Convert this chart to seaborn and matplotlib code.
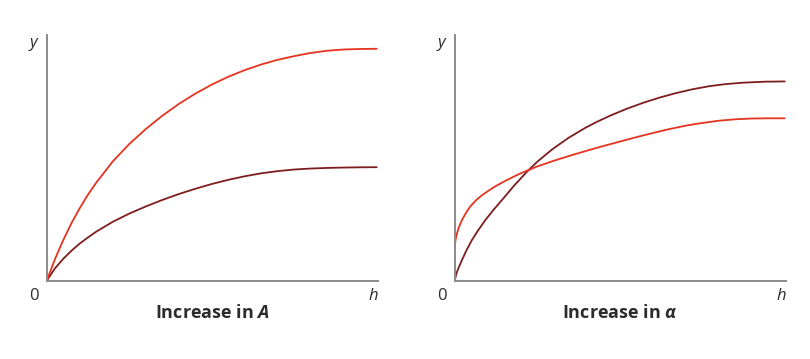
import numpy as np
import pandas as pd
import matplotlib
matplotlib.use("Agg")
import matplotlib.pyplot as plt
import seaborn as sns

# ---- data (h and y in arbitrary units 0..10) ----
left_red_h = [0, 0.25, 0.5, 0.75, 1.0, 1.25, 1.5, 2.0, 2.5, 3.0, 3.5, 4.0, 4.5, 5.0,
              5.5, 6.0, 6.5, 7.0, 7.5, 8.0, 8.5, 9.0, 9.5, 10.0]
left_red_y = [0, 0.875, 1.65, 2.34, 2.95, 3.50, 3.99, 4.85, 5.56, 6.17, 6.71, 7.19, 7.61, 7.98,
              8.30, 8.57, 8.80, 8.99, 9.14, 9.27, 9.36, 9.41, 9.43, 9.44]

left_dark_h = [0, 0.25, 0.5, 0.75, 1.0, 1.25, 1.5, 2.0, 2.5, 3.0, 3.5, 4.0, 4.5, 5.0,
               5.5, 6.0, 6.5, 7.0, 7.5, 8.0, 8.5, 9.0, 9.5, 10.0]
left_dark_y = [0, 0.50, 0.89, 1.22, 1.51, 1.76, 1.995, 2.395, 2.73, 3.02, 3.285, 3.525, 3.74, 3.935,
               4.105, 4.25, 4.37, 4.46, 4.525, 4.565, 4.59, 4.605, 4.615, 4.62]

right_red_h = [0, 0.03, 0.07, 0.12, 0.22, 0.35, 0.47, 0.65, 0.83, 1.0, 1.23, 1.5, 1.75, 2.0,
               2.5, 3.0, 3.5, 4.0, 4.5, 5.0, 5.5, 6.0, 6.5, 7.0, 7.5, 8.0, 8.5, 9.0, 9.5, 10.0]
right_red_y = [1.38, 1.70, 1.93, 2.15, 2.47, 2.78, 3.02, 3.28, 3.48, 3.64, 3.84, 4.04, 4.21, 4.37,
               4.65, 4.88, 5.09, 5.29, 5.48, 5.66, 5.84, 6.01, 6.17, 6.31, 6.42, 6.51, 6.57, 6.60, 6.61, 6.61]

right_dark_h = [0, 0.05, 0.1, 0.22, 0.35, 0.52, 0.7, 0.93, 1.18, 1.43, 1.8, 2.19, 2.5, 2.95,
                3.45, 3.95, 4.3, 4.7, 5.2, 5.71, 6.2, 6.72, 7.2, 7.73, 8.2, 8.74, 9.4, 10.0]
right_dark_y = [0, 0.28, 0.47, 0.84, 1.22, 1.65, 2.03, 2.47, 2.89, 3.28, 3.87, 4.435, 4.84, 5.34,
                5.815, 6.215, 6.46, 6.71, 6.99, 7.24, 7.45, 7.64, 7.79, 7.92, 8.0, 8.06, 8.10, 8.11]

titles = ["Increase in $A$", "Increase in $α$"]
x_label = "h"
y_label = "y"
origin_label = "0"

RED = "#e5331f"
DARK = "#7d1d1d"
AXIS = "#8a8a8a"
TEXT = "#2b2b2b"

sns.set_theme(style="white")
plt.rcParams["font.family"] = ["Open Sans", "DejaVu Sans"]
plt.rcParams["mathtext.fontset"] = "custom"
plt.rcParams["mathtext.it"] = "Open Sans:italic:bold"
plt.rcParams["mathtext.rm"] = "Open Sans:bold"

fig = plt.figure(figsize=(8.10, 3.59), dpi=100)
W, H = 810, 359

def add_ax(x0, x1, ytop, ybot):
    return fig.add_axes([x0 / W, 1 - ybot / H, (x1 - x0) / W, (ybot - ytop) / H])

ax1 = add_ax(46.7, 378, 35, 280.7)
ax2 = add_ax(454.7, 786, 35, 280.7)

panels = [
    (ax1, [(left_dark_h, left_dark_y, DARK), (left_red_h, left_red_y, RED)]),
    (ax2, [(right_dark_h, right_dark_y, DARK), (right_red_h, right_red_y, RED)]),
]

for i, (ax, series) in enumerate(panels):
    for hh, yy, col in series:
        df = pd.DataFrame({"h": hh, "y": yy})
        sns.lineplot(data=df, x="h", y="y", ax=ax, color=col, lw=1.3, sort=False,
                     solid_joinstyle="round", solid_capstyle="round")
    ax.set_xlim(0, 10.04)
    ax.set_ylim(0, 10.0)
    ax.set_xticks([])
    ax.set_yticks([])
    ax.set_xlabel("")
    ax.set_ylabel("")
    for s in ["top", "right"]:
        ax.spines[s].set_visible(False)
    for s in ["left", "bottom"]:
        ax.spines[s].set_color(AXIS)
        ax.spines[s].set_linewidth(1.4)
    ax.patch.set_alpha(0)
    # labels
    ax.text(-0.04, 0.967, y_label, transform=ax.transAxes, ha="center", va="center",
            fontsize=12, style="italic", color=TEXT)
    ax.text(-0.04, -0.062, origin_label, transform=ax.transAxes, ha="center", va="center",
            fontsize=12, color=TEXT)
    ax.text(0.985, -0.062, x_label, transform=ax.transAxes, ha="center", va="center",
            fontsize=12, style="italic", color=TEXT)
    ax.text(0.5, -0.13, titles[i], transform=ax.transAxes, ha="center", va="center",
            fontsize=13, fontweight="bold", color=TEXT)

fig.savefig("out.png", dpi=100, facecolor="white")
